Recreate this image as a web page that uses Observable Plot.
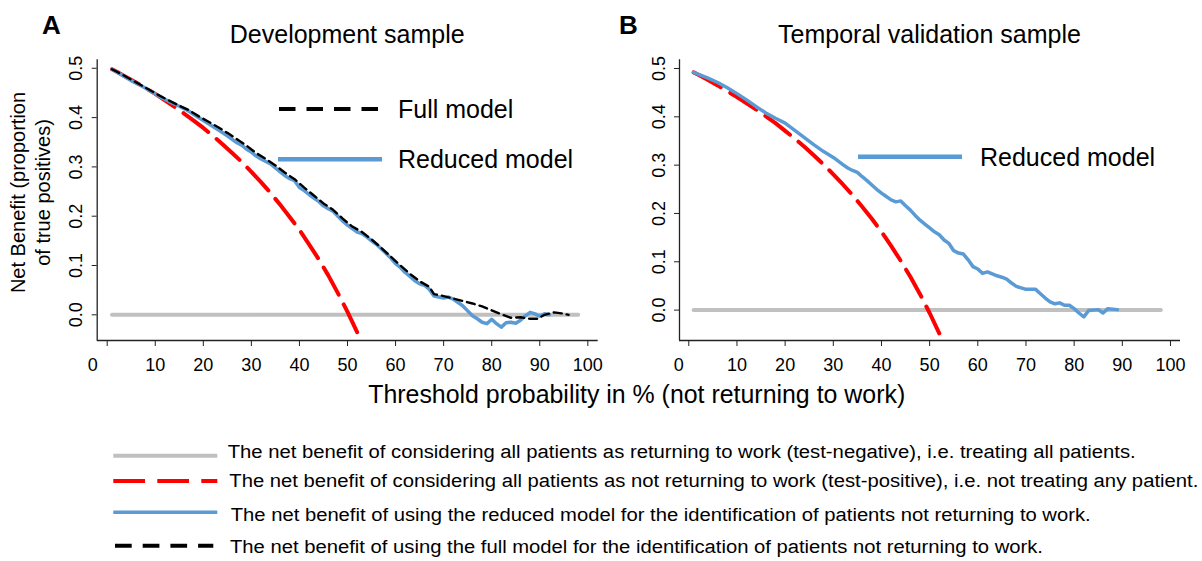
<!DOCTYPE html>
<html>
<head>
<meta charset="utf-8">
<script src="https://cdn.jsdelivr.net/npm/d3@7"></script>
<script src="https://cdn.jsdelivr.net/npm/@observablehq/plot@0.6"></script>
<style>
  html, body { margin: 0; padding: 0; background: #fff; }
  body { width: 1202px; height: 561px; position: relative; overflow: hidden;
         font-family: "Liberation Sans", Arial, sans-serif; }
  .panel { position: absolute; top: 0; }
  #overlay { position: absolute; left: 0; top: 0; pointer-events: none; }
  #overlay text { font-family: "Liberation Sans", Arial, sans-serif; fill: #000; }
</style>
</head>
<body>
<div id="panelA" class="panel" style="left:0px"></div>
<div id="panelB" class="panel" style="left:600px"></div>
<svg id="overlay" width="1202" height="561"></svg>
<script>
// ---------------- data ----------------
const xTicks = [0, 10, 20, 30, 40, 50, 60, 70, 80, 90, 100];
const yTicks = [0, 0.1, 0.2, 0.3, 0.4, 0.5];

// Treat none / "all returning to work" (grey) : threshold %, net benefit
const noneLine = [[1, 0], [98, 0]];

// Panel A – "all not returning" (red dashed)
const allA = [[1,0.498],[2,0.493],[4,0.482],[6,0.471],[8,0.460],[10,0.448],[12,0.435],[14,0.422],
  [16,0.408],[18,0.394],[20,0.379],[22,0.363],[24,0.346],[26,0.328],[28,0.310],[30,0.290],[32,0.269],
  [34,0.247],[36,0.223],[38,0.198],[40,0.172],[42,0.143],[44,0.113],[46,0.080],[48,0.044],[50,0.006],[52,-0.035]];

// Panel A – reduced model (blue)
const reducedA = [[1,0.498],[3,0.487],[5,0.475],[7,0.465],[9,0.454],[11,0.442],[13,0.432],[15,0.423],
  [17,0.413],[19,0.400],[21,0.388],[23,0.376],[25,0.363],[27,0.349],[28,0.344],[29,0.336],[30,0.330],
  [31,0.322],[32,0.316],[33,0.311],[34,0.306],[35,0.298],[36,0.290],[37,0.282],[38,0.276],[39,0.272],
  [40,0.258],[41,0.252],[42,0.244],[43,0.237],[44,0.230],[45,0.221],[46,0.215],[47,0.210],[48,0.200],
  [49,0.190],[50,0.182],[51,0.175],[52,0.168],[53,0.165],[54,0.158],[55,0.150],[56,0.143],[57,0.134],
  [58,0.125],[59,0.115],[60,0.104],[61,0.096],[62,0.086],[63,0.078],[64,0.069],[65,0.063],[66,0.060],
  [67,0.052],[68,0.038],[69,0.036],[70,0.034],[71,0.036],[72,0.032],[73,0.025],[74,0.018],[75,0.008],
  [76,-0.002],[77,-0.008],[78,-0.015],[79,-0.018],[80,-0.009],[81,-0.018],[82,-0.025],[83,-0.016],
  [84,-0.015],[85,-0.017],[86,-0.011],[87,-0.002],[88,0.005],[89,0.002],[90,-0.003],[91,0.002],[92,0.000]];

// Panel A – full model (black dashed)
const fullA = [[1,0.498],[3,0.488],[5,0.477],[7,0.466],[9,0.455],[11,0.444],[13,0.434],[15,0.424],
  [17,0.415],[19,0.403],[21,0.392],[23,0.381],[25,0.369],[27,0.356],[29,0.343],[31,0.328],[33,0.316],
  [35,0.303],[37,0.288],[39,0.275],[41,0.258],[43,0.242],[45,0.226],[47,0.213],[49,0.195],[51,0.179],
  [53,0.168],[55,0.153],[57,0.136],[59,0.118],[61,0.100],[63,0.083],[65,0.068],[67,0.057],[68,0.042],
  [70,0.038],[72,0.033],[74,0.028],[76,0.023],[78,0.017],[80,0.009],[82,0.001],[84,-0.006],[86,-0.005],
  [88,-0.008],[89.5,-0.008],[91,0.000],[93,0.005],[94.5,0.003],[96,0.000]];

// Panel B – "all not returning" (red dashed)
const allB = [[1,0.492],[2,0.487],[4,0.476],[6,0.465],[8,0.453],[10,0.441],[12,0.428],[14,0.415],
  [16,0.401],[18,0.387],[20,0.371],[22,0.355],[24,0.338],[26,0.320],[28,0.301],[30,0.281],[32,0.260],
  [34,0.238],[36,0.214],[38,0.189],[40,0.162],[42,0.133],[44,0.102],[46,0.069],[48,0.033],[50,-0.006],[52,-0.048]];

// Panel B – reduced model (blue)
const reducedB = [[1,0.492],[4,0.480],[6,0.471],[8,0.460],[10,0.448],[12,0.435],[14,0.421],[16,0.408],
  [18,0.397],[20,0.387],[22,0.372],[24,0.357],[26,0.342],[28,0.328],[30,0.316],[32,0.301],[33,0.294],
  [34,0.289],[35,0.285],[36,0.276],[37,0.268],[38,0.259],[39,0.250],[40,0.242],[41,0.235],[42,0.228],
  [43,0.224],[44,0.226],[45,0.216],[46,0.207],[47,0.196],[48,0.186],[49,0.178],[50,0.170],[51,0.162],
  [52,0.156],[53,0.145],[54,0.138],[55,0.123],[56,0.118],[57,0.116],[58,0.104],[59,0.090],[60,0.085],
  [61,0.076],[62,0.079],[63,0.075],[64,0.071],[65,0.068],[66,0.064],[67,0.056],[68,0.049],[69,0.046],
  [70,0.043],[72,0.043],[73,0.034],[74,0.025],[75,0.017],[76,0.013],[77,0.015],[78,0.010],[79,0.010],
  [80,0.003],[81,-0.006],[82,-0.014],[83,-0.001],[85,0.001],[86,-0.006],[87,0.003],[89,0.001]];

const panelTitles = ["Development sample", "Temporal validation sample"];
const panelLetters = ["A", "B"];
const yLabelLines = ["Net Benefit (proportion", "of true positives)"];
const xLabel = "Threshold probability in % (not returning to work)";
const legendTexts = [
  "The net benefit of considering all patients as returning to work (test-negative), i.e. treating all patients.",
  "The net benefit of considering all patients as not returning to work (test-positive), i.e. not treating any patient.",
  "The net benefit of using the reduced model for the identification of patients not returning to work.",
  "The net benefit of using the full model for the identification of patients not returning to work."
];

// ---------------- styling ----------------
const GREY = "#c0c0c0", RED = "#ff0000", BLUE = "#5b9bd5", BLACK = "#000000";
const FONT = "'Liberation Sans', Arial, sans-serif";

function panel(opts) {
  const {series, xDom, yDom, width, ml, mr, zeroDx} = opts;
  const marks = [
    Plot.ruleX([xDom[0]], {stroke: "#222", strokeWidth: 1.3}),
    Plot.ruleY([yDom[0]], {stroke: "#222", strokeWidth: 1.3}),
    Plot.axisY({ticks: yTicks, tickSize: 5, tickFormat: () => "", label: null, stroke: "#222"}),
    Plot.text(yTicks, {y: d => d, text: d => d.toFixed(1), frameAnchor: "left", dx: -15,
      rotate: -90, textAnchor: "middle", lineAnchor: "bottom", fontSize: 18}),
    Plot.axisX({ticks: xTicks, tickSize: 6, tickPadding: 11.5, fontSize: 18, label: null,
      tickFormat: d => d === 0 ? "" : String(d), stroke: "#222"}),
    Plot.text([0], {x: d => d, text: d => String(d), frameAnchor: "bottom", dy: 17.5, dx: zeroDx,
      lineAnchor: "top", fontSize: 18}),
    Plot.line(noneLine, {x: d => d[0], y: d => d[1], stroke: GREY, strokeWidth: 4})
  ];
  for (const s of series) {
    marks.push(Plot.line(s.data, {x: d => d[0], y: d => d[1], stroke: s.color, strokeWidth: s.width,
      strokeDasharray: s.dash, strokeLinejoin: "round", curve: "linear"}));
  }
  return Plot.plot({
    width, height: 400, marginLeft: ml, marginRight: mr, marginTop: 59.3, marginBottom: 60,
    x: {domain: xDom}, y: {domain: yDom},
    style: {fontFamily: FONT, fontSize: "18px", color: "#000", background: "transparent", overflow: "visible"},
    marks
  });
}

document.getElementById("panelA").appendChild(panel({
  xDom: [-2.08, 102.16], yDom: [-0.0521, 0.5172], width: 600, ml: 96.7, mr: 2.3, zeroDx: -14.5,
  series: [
    {data: allA, color: RED, width: 4, dash: "31,11"},
    {data: reducedA, color: BLUE, width: 3.5},
    {data: fullA, color: BLACK, width: 2.4, dash: "8,5"}
  ]
}));
document.getElementById("panelB").appendChild(panel({
  xDom: [-1.93, 102.08], yDom: [-0.0629, 0.518], width: 602, ml: 79, mr: 22, zeroDx: -10,
  series: [
    {data: allB, color: RED, width: 4, dash: "31,11"},
    {data: reducedB, color: BLUE, width: 3.5}
  ]
}));

// ---------------- annotations (titles, labels, legends) ----------------
const ov = d3.select("#overlay");
ov.append("text").attr("x", 42).attr("y", 34).attr("font-size", 26).attr("font-weight", "bold").text(panelLetters[0]);
ov.append("text").attr("x", 619).attr("y", 34).attr("font-size", 26).attr("font-weight", "bold").text(panelLetters[1]);
ov.append("text").attr("x", 347.2).attr("y", 43).attr("font-size", 25).attr("text-anchor", "middle").text(panelTitles[0]);
ov.append("text").attr("x", 929.5).attr("y", 43).attr("font-size", 25).attr("text-anchor", "middle").text(panelTitles[1]);

yLabelLines.forEach((t, i) => {
  ov.append("text").attr("transform", `translate(${25 + 25 * i},192.5) rotate(-90)`)
    .attr("font-size", 20).attr("text-anchor", "middle").text(t);
});
ov.append("text").attr("x", 636.7).attr("y", 403).attr("font-size", 25).attr("text-anchor", "middle")
  .attr("textLength", 537).attr("lengthAdjust", "spacingAndGlyphs").text(xLabel);

// in-panel keys
function key(x1, x2, y, color, w, dash) {
  ov.append("line").attr("x1", x1).attr("x2", x2).attr("y1", y).attr("y2", y)
    .attr("stroke", color).attr("stroke-width", w).attr("stroke-dasharray", dash || null);
}
key(279, 378, 109, BLACK, 4, "16.5,11");
ov.append("text").attr("x", 398).attr("y", 118).attr("font-size", 25).text("Full model");
key(278, 382, 159.3, BLUE, 4.5);
ov.append("text").attr("x", 398).attr("y", 168).attr("font-size", 25).text("Reduced model");
key(858, 962, 156.7, BLUE, 4.5);
ov.append("text").attr("x", 980).attr("y", 165.5).attr("font-size", 25).text("Reduced model");

// bottom legend
const legendKeys = [
  {color: GREY, w: 4, dash: null, x1: 113.3, x2: 217.3, y: 455.7, tx: 227.7, ty: 457.7, len: 908},
  {color: RED, w: 4, dash: "31.7,12.3", x1: 113.3, x2: 217.3, y: 481, tx: 229.3, ty: 486.7, len: 969},
  {color: BLUE, w: 3.5, dash: null, x1: 113.3, x2: 217.3, y: 512.3, tx: 230.7, ty: 520.7, len: 860},
  {color: BLACK, w: 4, dash: "16.7,11", x1: 115, x2: 213.3, y: 545.7, tx: 230, ty: 552.7, len: 813}
];
legendKeys.forEach((k, i) => {
  key(k.x1, k.x2, k.y, k.color, k.w, k.dash);
  ov.append("text").attr("x", k.tx).attr("y", k.ty).attr("font-size", 18)
    .attr("textLength", k.len).attr("lengthAdjust", "spacingAndGlyphs").text(legendTexts[i]);
});
</script>
</body>
</html>
